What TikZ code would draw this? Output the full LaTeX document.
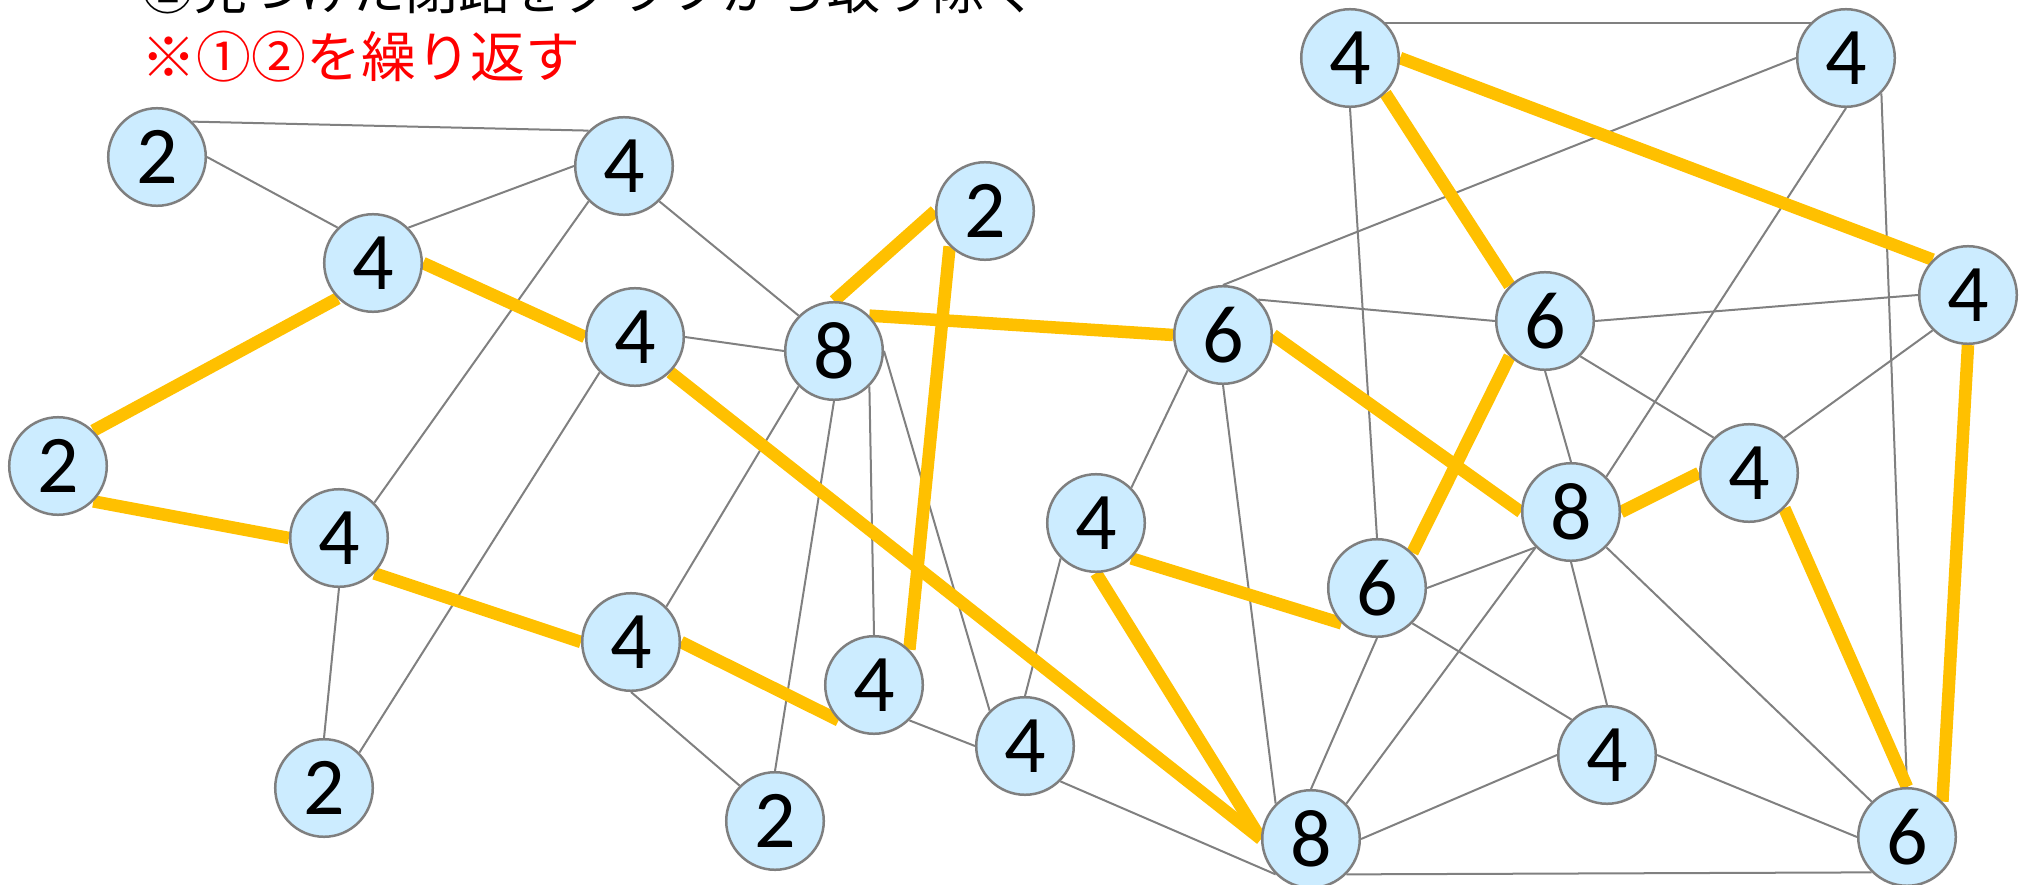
\documentclass[tikz,border=0pt]{standalone}
\usepackage{fontspec}
\newfontfamily\jpfont{Noto Sans CJK JP}
\newfontfamily\numfont{Carlito}

\definecolor{nodefill}{HTML}{CCECFF}
\definecolor{nodeborder}{HTML}{7F7F7F}
\definecolor{edgegray}{HTML}{808080}
\definecolor{cyclegold}{HTML}{FFC000}
\definecolor{notered}{HTML}{FF0000}

\pgfdeclarelayer{plainedges}
\pgfdeclarelayer{cycleedges}
\pgfsetlayers{plainedges,cycleedges,main}

\tikzset{
  vtx/.style={circle, draw=nodeborder, fill=nodefill, line width=0.025cm,
    minimum size=0.975cm, inner sep=0pt,
    font=\numfont\fontsize{23.3pt}{28pt}\selectfont},
  plain/.style={draw=edgegray, line width=0.02cm},
  cyc/.style={draw=cyclegold, line width=0.125cm},
  caption/.style={anchor=base west, inner sep=0pt},
}

\begin{document}
\begin{tikzpicture}[x=0.01cm, y=-0.01cm]
\useasboundingbox (0,0) rectangle (2027,885);

% instructions
\node[caption, font=\jpfont\fontsize{15pt}{18pt}\selectfont] (stepremove)
  at (141,10) {②見つけた閉路をグラフから取り除く};
\node[caption, text=notered, font=\jpfont\fontsize{15.6pt}{18pt}\selectfont]
  (steprepeat) at (141,78) {※①②を繰り返す};

% vertices labelled with their degree
\node[vtx] (A) at (157,157) {2};
\node[vtx] (B) at (624,166) {4};
\node[vtx] (C) at (373,263) {4};
\node[vtx] (D) at (985,211) {2};
\node[vtx] (E) at (635,337) {4};
\node[vtx] (F) at (834,351) {8};
\node[vtx] (G) at (58,466) {2};
\node[vtx] (H) at (339,538) {4};
\node[vtx] (I) at (631,642) {4};
\node[vtx] (J) at (874,685) {4};
\node[vtx] (K) at (1025,746) {4};
\node[vtx] (L) at (324,788) {2};
\node[vtx] (M) at (775,821) {2};
\node[vtx] (N) at (1223,335) {6};
\node[vtx] (O) at (1096,523) {4};
\node[vtx] (P) at (1377,588) {6};
\node[vtx] (Q) at (1311,839) {8};
\node[vtx] (R) at (1350,58) {4};
\node[vtx] (S) at (1846,58) {4};
\node[vtx] (T) at (1545,321) {6};
\node[vtx] (U) at (1968,295) {4};
\node[vtx] (V) at (1571,512) {8};
\node[vtx] (W) at (1749,473) {4};
\node[vtx] (X) at (1607,755) {4};
\node[vtx] (Y) at (1907,837) {6};

% remaining edges, attached to the connection points of the circles
\begin{pgfonlayer}{plainedges}
\foreach \u/\v in {
  A.north east/B.north west, A.east/C.north west, C.north east/B.west,
  B.south east/F.north west, B.south west/H.north east, E.east/F.west,
  E.south west/L.north east, F.south west/I.north east, F.south/M.north,
  F.south east/J.north, F.east/K.north west, H.south/L.north,
  I.south/M.north west, J.south east/K.west, K.south east/Q.south west,
  K.north/O.south west, N.south west/O.north east, N.south/Q.north west,
  N.north/S.west, N.north east/T.west, R.north east/S.north west,
  R.south/P.north, S.south/V.north east, S.south east/Y.north,
  T.east/U.west, T.south/V.north, T.south east/W.north west,
  U.south west/W.north east, V.south west/P.east, V.south west/Q.north east,
  V.south/X.north, V.south east/Y.north west, P.south/Q.north,
  P.south east/X.north west, Q.east/X.west, X.east/Y.west,
  Q.south east/Y.south west}
  \draw[plain] (\u) -- (\v);
\end{pgfonlayer}

% edges of the cycles found
\begin{pgfonlayer}{cycleedges}
\foreach \u/\v in {
  G.north east/C.south west, G.south east/H.west, C.east/E.west,
  E.south east/Q.west, H.south east/I.west, I.east/J.south west,
  J.north east/D.south west, F.north/D.west, F.north east/N.west,
  N.east/V.west, O.south east/P.south west, O.south/Q.west,
  P.north east/T.south west, T.north west/R.south east,
  R.east/U.north west, U.south/Y.north east, Y.north/W.south east,
  W.west/V.east}
  \draw[cyc] (\u) -- (\v);
\end{pgfonlayer}
\end{tikzpicture}
\end{document}
